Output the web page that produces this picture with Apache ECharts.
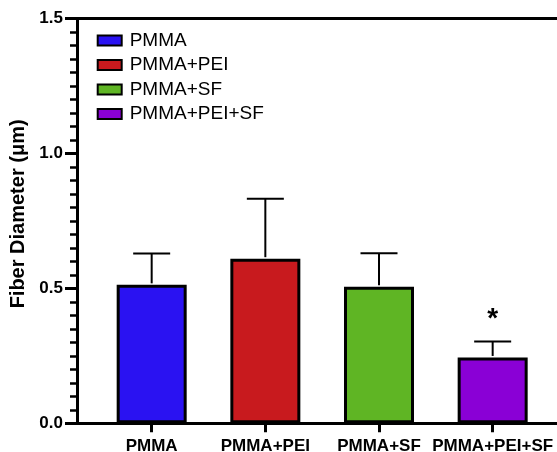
<!DOCTYPE html>
<html>
<head>
<meta charset="utf-8">
<script src="https://cdn.jsdelivr.net/npm/echarts@6/dist/echarts.min.js"></script>
<style>html,body{margin:0;padding:0;background:#fff;}#c{width:557px;height:452px;}</style>
</head>
<body>
<div id="c"></div>
<script>
const categories = ['PMMA', 'PMMA+PEI', 'PMMA+SF', 'PMMA+PEI+SF'];
const means = [0.513, 0.610, 0.506, 0.244];
const sds = [0.116, 0.222, 0.124, 0.059];
const marks = ['', '', '', '*'];
const colors = ['#2a12f2', '#c81a1e', '#5fb524', '#8a00d6'];
const yTicks = [0, 0.5, 1.0, 1.5];

const FONT = "'Liberation Sans', Arial, sans-serif";
const chart = echarts.init(document.getElementById('c'), null, {renderer: 'canvas'});

const xMin = -0.657, xMax = 3.566;

const barSeries = categories.map((name, i) => ({
  name: name,
  type: 'bar',
  xAxisIndex: 0,
  barWidth: 70,
  barGap: '-100%',
  data: [[i, means[i]]],
  itemStyle: {color: colors[i], borderColor: '#000', borderWidth: 3},
  z: 2
}));

const errSeries = {
  type: 'custom',
  xAxisIndex: 0,
  data: categories.map((c, i) => [i, means[i], means[i] + sds[i], marks[i]]),
  renderItem: function (params, api) {
    const x = api.value(0);
    const base = api.coord([x, api.value(1)]);
    const top = api.coord([x, api.value(2)]);
    const half = 18.5;
    const style = {stroke: '#000', lineWidth: 2};
    const children = [
      {type: 'line', shape: {x1: base[0], y1: base[1] - 1.5, x2: top[0], y2: top[1]}, style: style},
      {type: 'line', shape: {x1: top[0] - half, y1: top[1], x2: top[0] + half, y2: top[1]}, style: style}
    ];
    const m = marks[params.dataIndex];
    if (m) {
      children.push({type: 'text', x: top[0], y: top[1] - 22,
        style: {text: m, fill: '#000', font: 'bold 28px ' + FONT, align: 'center', verticalAlign: 'middle'}});
    }
    return {type: 'group', children: children};
  },
  z: 3
};

chart.setOption({
  animation: false,
  backgroundColor: '#fff',
  grid: {left: 77, right: 0, top: 18.5, bottom: 28.7, containLabel: false, outerBoundsMode: 'none'},
  legend: {
    data: categories,
    orient: 'vertical',
    left: 91.7,
    top: 26,
    itemWidth: 24,
    itemHeight: 10,
    itemGap: 5.5,
    icon: 'rect',
    itemStyle: {borderColor: '#000', borderWidth: 2},
    textStyle: {fontFamily: FONT, fontSize: 19, color: '#000', padding: [0, 0, 0, 3]}
  },
  xAxis: [{
    type: 'value',
    min: xMin,
    max: xMax,
    position: 'bottom',
    axisLine: {show: true, onZero: false, lineStyle: {color: '#000', width: 3}},
    axisTick: {show: true, customValues: [0, 1, 2, 3], length: 9, lineStyle: {color: '#000', width: 3}},
    axisLabel: {
      customValues: [0, 1, 2, 3],
      formatter: v => categories[Math.round(v)],
      fontFamily: FONT, fontWeight: 'bold', fontSize: 17, color: '#000', margin: 15
    },
    splitLine: {show: false}
  }, {
    type: 'value',
    min: xMin,
    max: xMax,
    position: 'top',
    axisLine: {show: true, onZero: false, lineStyle: {color: '#000', width: 3}},
    axisTick: {show: false},
    axisLabel: {show: false},
    splitLine: {show: false}
  }],
  yAxis: {
    type: 'value',
    min: yTicks[0],
    max: yTicks[yTicks.length - 1],
    interval: 0.5,
    position: 'left',
    name: 'Fiber Diameter (μm)',
    nameLocation: 'middle',
    nameGap: 47,
    nameTextStyle: {fontFamily: FONT, fontWeight: 'bold', fontSize: 20, color: '#000', padding: [0, 0, 0, 14]},
    axisLine: {show: true, onZero: false, lineStyle: {color: '#000', width: 3}},
    axisTick: {show: true, length: 12, lineStyle: {color: '#000', width: 3}},
    minorTick: {show: true, splitNumber: 10, length: 7, lineStyle: {color: '#000', width: 2.5}},
    axisLabel: {formatter: v => v.toFixed(1), fontFamily: FONT, fontWeight: 'bold', fontSize: 17, color: '#000', margin: 14},
    splitLine: {show: false}
  },
  series: barSeries.concat([errSeries])
});
</script>
</body>
</html>
